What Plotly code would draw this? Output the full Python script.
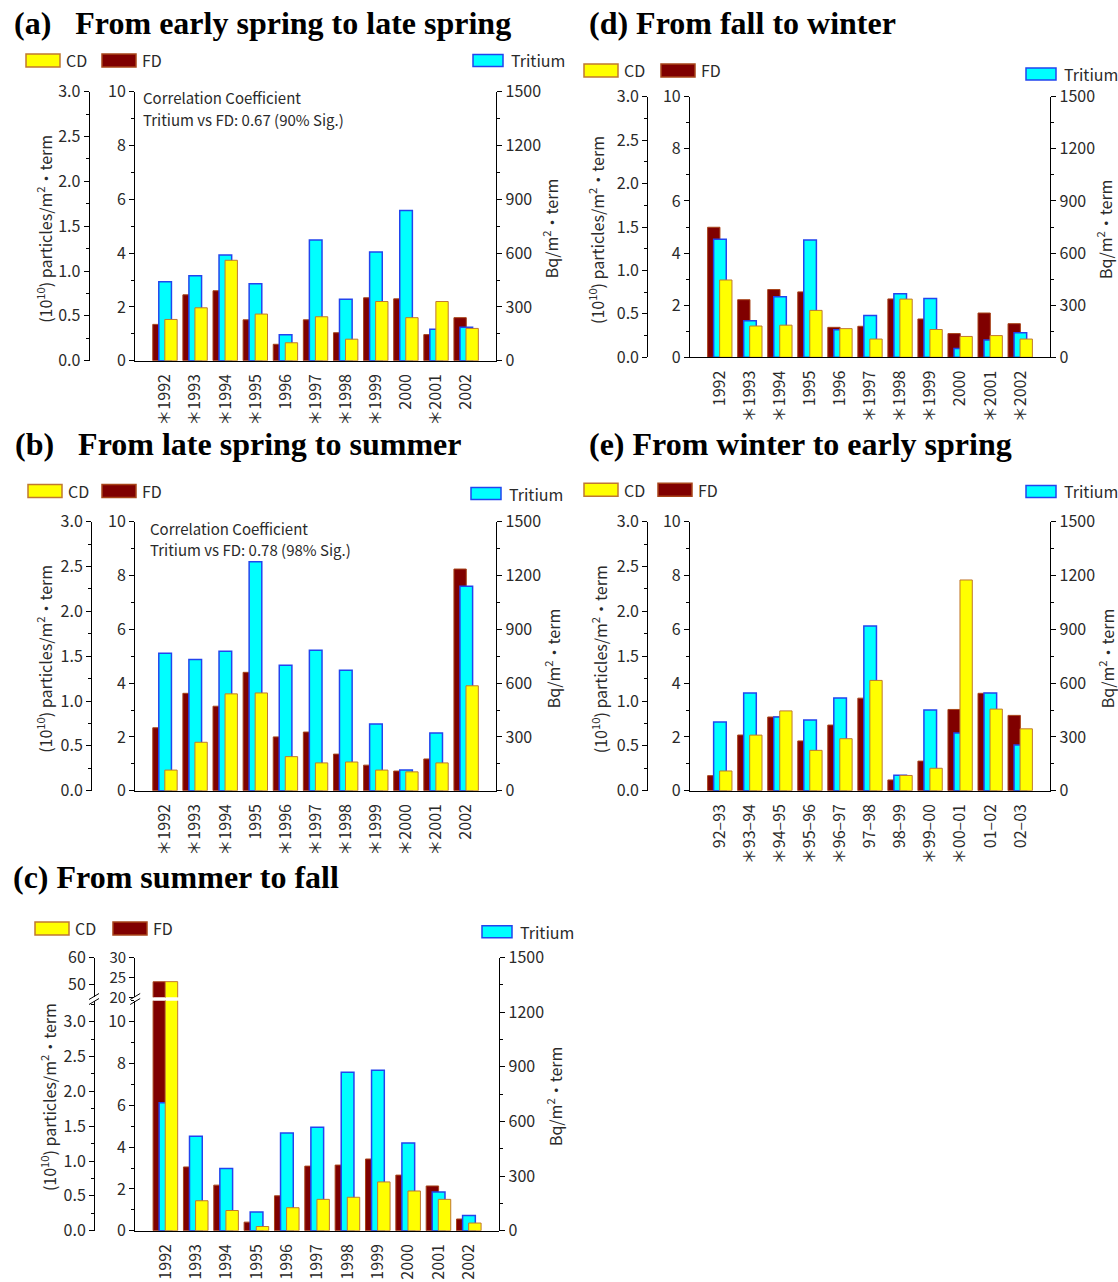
import plotly.graph_objects as go

W, H = 1118, 1282

# ---------------- data ----------------
# CD: 10^10 particles/m2 per term (outer left scale), FD: inner left scale, Tritium: Bq/m2 per term
a_years = ["＊1992", "＊1993", "＊1994", "＊1995", "1996", "＊1997", "＊1998", "＊1999", "2000", "＊2001", "2002"]
a_cd = [0.46, 0.59, 1.12, 0.52, 0.20, 0.49, 0.24, 0.66, 0.48, 0.66, 0.36]
a_fd = [1.35, 2.45, 2.60, 1.52, 0.61, 1.52, 1.04, 2.34, 2.30, 0.97, 1.60]
a_tritium = [440, 474, 589, 429, 145, 673, 342, 606, 838, 175, 186]

d_years = ["1992", "＊1993", "＊1994", "1995", "1996", "＊1997", "＊1998", "＊1999", "2000", "＊2001", "＊2002"]
d_cd = [0.89, 0.36, 0.37, 0.54, 0.33, 0.21, 0.67, 0.32, 0.24, 0.25, 0.21]
d_fd = [4.99, 2.21, 2.60, 2.51, 1.15, 1.19, 2.24, 1.47, 0.91, 1.70, 1.29]
d_tritium = [679, 211, 349, 675, 159, 240, 366, 338, 50, 100, 142]

b_years = ["＊1992", "＊1993", "＊1994", "1995", "＊1996", "＊1997", "＊1998", "＊1999", "＊2000", "＊2001", "2002"]
b_cd = [0.23, 0.54, 1.08, 1.09, 0.38, 0.31, 0.32, 0.23, 0.21, 0.31, 1.17]
b_fd = [2.34, 3.62, 3.14, 4.40, 2.00, 2.18, 1.36, 0.95, 0.73, 1.18, 8.24]
b_tritium = [766, 732, 777, 1277, 699, 783, 671, 372, 115, 322, 1140]

e_years = ["92–93", "＊93–94", "＊94–95", "＊95–96", "＊96–97", "97–98", "98–99", "＊99–00", "＊00–01", "01–02", "02–03"]
e_cd = [0.22, 0.62, 0.89, 0.45, 0.58, 1.23, 0.17, 0.25, 2.35, 0.91, 0.69]
e_fd = [0.56, 2.07, 2.74, 1.85, 2.44, 3.44, 0.40, 1.10, 3.02, 3.62, 2.80]
e_tritium = [383, 545, 411, 394, 517, 918, 86, 450, 322, 545, 255]

c_years = ["1992", "＊1993", "＊1994", "1995", "＊1996", "＊1997", "1998", "1999", "＊2000", "＊2001", "2002"]
c_cd = [50.9, 0.43, 0.29, 0.06, 0.33, 0.45, 0.48, 0.70, 0.57, 0.45, 0.11]
c_fd = [23.9, 3.05, 2.18, 0.41, 1.67, 3.09, 3.14, 3.43, 2.66, 2.14, 0.56]
c_tritium = [703, 518, 341, 103, 537, 568, 870, 881, 482, 212, 84]

titles = {
    "a": "(a)\u00a0\u00a0\u00a0From early spring to late spring",
    "d": "(d) From fall to winter",
    "b": "(b)\u00a0\u00a0\u00a0From late spring to summer",
    "e": "(e) From winter to early spring",
    "c": "(c) From summer to fall",
}
corr_head = "Correlation Coefficient"
corr_a = "Tritium vs FD: 0.67 (90% Sig.)"
corr_b = "Tritium vs FD: 0.78 (98% Sig.)"

# ---------------- styling ----------------
SANS = "Noto Sans CJK JP"
TXT = "#2a2a2a"
TICK_FONT = dict(family=SANS, size=16, color=TXT)
CD_FILL, CD_LINE = "#FFFF00", "#C07830"
FD_FILL, FD_LINE = "#800000", "#A8441A"
T_FILL, T_LINE = "#00FFFF", "#2244EE"

# bar placement inside each category slot
FD_OFF, FD_W = -0.41, 0.41
T_OFF, T_W = -0.21, 0.42
CD_OFF, CD_W = -0.01, 0.41


def fx(px):
    return px / W


def fy(py):
    return 1 - py / H


def xref(n):
    return "x" if n == 1 else f"x{n}"


def yref(n):
    return "y" if n == 1 else f"y{n}"


def xkey(n):
    return "xaxis" if n == 1 else f"xaxis{n}"


def ykey(n):
    return "yaxis" if n == 1 else f"yaxis{n}"


def yax(**kw):
    d = dict(showline=True, linecolor="black", linewidth=1, ticks="outside",
             ticklen=5, tickwidth=1, tickcolor="black", showgrid=False,
             zeroline=False, tickfont=TICK_FONT, fixedrange=True, automargin=False)
    d.update(kw)
    return d


def minor(step):
    return dict(dtick=step, ticks="outside", ticklen=3, tickcolor="black", showgrid=False)


def xax(geo, anchor):
    return dict(type="category", range=[-1, 11],
                domain=[fx(geo["inner"]), fx(geo["right"])], anchor=anchor,
                showline=True, linecolor="black", linewidth=1, ticks="",
                tickangle=-90, tickfont=TICK_FONT, showgrid=False, zeroline=False,
                ticklabelstandoff=6, fixedrange=True, automargin=False)


def bar(x, y, xa, ya, fill, line, off, wd, lw=1):
    return go.Bar(x=x, y=y, xaxis=xa, yaxis=ya, offset=off, width=wd,
                  marker=dict(color=fill, line=dict(color=line, width=lw)),
                  showlegend=False, hoverinfo="skip")


fig = go.Figure()
layout = {}
shapes = []
annotations = []


def text(x, y, s, size=16, anchor="left", family=SANS, color=TXT, angle=0, yanchor="middle"):
    annotations.append(dict(x=fx(x), y=fy(y), xref="paper", yref="paper", text=s,
                            showarrow=False, xanchor=anchor, yanchor=yanchor,
                            textangle=angle, align="left",
                            font=dict(family=family, size=size, color=color)))


def legend(lg):
    ycf, yt = lg["y"], lg["yt"]
    for x0, fill, line, name in ((lg["cd"], CD_FILL, CD_LINE, "CD"),
                                 (lg["fd"], FD_FILL, FD_LINE, "FD")):
        shapes.append(dict(type="rect", xref="paper", yref="paper",
                           x0=fx(x0), x1=fx(x0 + 34), y0=fy(ycf + 6.5), y1=fy(ycf - 6.5),
                           fillcolor=fill, line=dict(color=line, width=1.5)))
        text(x0 + 38, ycf, name)
    tx = lg["t"]
    shapes.append(dict(type="rect", xref="paper", yref="paper",
                       x0=fx(tx - 36), x1=fx(tx - 6), y0=fy(yt + 6), y1=fy(yt - 6),
                       fillcolor=T_FILL, line=dict(color=T_LINE, width=1.5)))
    text(tx, yt, "Tritium")


def axis_titles(geo, lx, rx, dy=3):
    mid = (geo["top"] + geo["bottom"]) / 2 + dy
    text(lx, mid, "(10<sup>10</sup>) particles/m<sup>2</sup>・term", anchor="center", angle=-90)
    text(rx, mid, "Bq/m<sup>2</sup>・term", anchor="center", angle=-90)


def standard_panel(nx, yb, cats, fd, cd, tri, geo):
    yt, yc = yb + 1, yb + 2
    xa = xref(nx)
    layout[xkey(nx)] = xax(geo, yref(yb))
    layout[ykey(yb)] = yax(domain=[fy(geo["bottom"]), fy(geo["top"])], range=[0, 10],
                           tick0=0, dtick=2, minor=minor(1), anchor=xa, side="left")
    layout[ykey(yt)] = yax(overlaying=yref(yb), anchor=xa, side="right", range=[0, 1500],
                           tick0=0, dtick=300, minor=minor(150))
    layout[ykey(yc)] = yax(overlaying=yref(yb), anchor="free", position=fx(geo["outer"]),
                           side="left", range=[0, 3], tick0=0, dtick=0.5,
                           tickformat=".1f", minor=minor(0.25))
    fig.add_trace(bar(cats, fd, xa, yref(yb), FD_FILL, FD_LINE, FD_OFF, FD_W))
    fig.add_trace(bar(cats, tri, xa, yref(yt), T_FILL, T_LINE, T_OFF, T_W, 1.5))
    fig.add_trace(bar(cats, cd, xa, yref(yc), CD_FILL, CD_LINE, CD_OFF, CD_W))


# ---------------- panels a, d, b, e ----------------
geo_a = dict(outer=88.6, inner=135.0, right=496.4, top=91.7, bottom=360.7)
geo_d = dict(outer=647.2, inner=689.9, right=1050.4, top=96.7, bottom=357.3)
geo_b = dict(outer=91.0, inner=135.0, right=496.4, top=521.7, bottom=790.7)
geo_e = dict(outer=647.2, inner=689.9, right=1050.4, top=521.7, bottom=790.7)

standard_panel(1, 1, a_years, a_fd, a_cd, a_tritium, geo_a)
standard_panel(2, 4, d_years, d_fd, d_cd, d_tritium, geo_d)
standard_panel(3, 7, b_years, b_fd, b_cd, b_tritium, geo_b)
standard_panel(4, 10, e_years, e_fd, e_cd, e_tritium, geo_e)

# ---------------- panel c (broken left scales) ----------------
geo_c = dict(outer=94.0, inner=135.2, right=499.3, top=957.5, bottom=1230.7,
             lo_top=1000.7, hi_bot=997.3, ten=1021.7)
lo_frac = (geo_c["bottom"] - geo_c["lo_top"]) / (geo_c["bottom"] - geo_c["ten"])
t_frac = (geo_c["bottom"] - geo_c["lo_top"]) / (geo_c["bottom"] - geo_c["top"])
xc = xref(5)
layout[xkey(5)] = xax(geo_c, yref(13))
# lower segment: FD base, tritium (same scale as the continuous right axis), CD outer scale
layout[ykey(13)] = yax(domain=[fy(geo_c["bottom"]), fy(geo_c["lo_top"])], range=[0, 10 * lo_frac],
                       tick0=0, dtick=2, minor=minor(1), anchor=xc, side="left")
layout[ykey(14)] = dict(overlaying=yref(13), anchor=xc, side="right", visible=False,
                        range=[0, 1500 * t_frac], fixedrange=True, automargin=False)
layout[ykey(15)] = yax(overlaying=yref(13), anchor="free", position=fx(geo_c["outer"]),
                       side="left", range=[0, 3 * lo_frac], tick0=0, dtick=0.5,
                       tickformat=".1f", minor=minor(0.25))
# upper segment
layout[ykey(16)] = yax(domain=[fy(geo_c["hi_bot"]), fy(geo_c["top"])], range=[20, 30],
                       tick0=20, dtick=5, anchor=xc, side="left",
                       tickfont=dict(family=SANS, size=15, color=TXT))
layout[ykey(17)] = yax(overlaying=yref(16), anchor="free", position=fx(geo_c["outer"]),
                       side="left", range=[45, 60], tick0=50, dtick=10)
# continuous tritium scale drawn on the right
layout[ykey(18)] = yax(domain=[fy(geo_c["bottom"]), fy(geo_c["top"])], range=[0, 1500],
                       anchor=xc, side="right", tick0=0, dtick=300, minor=minor(150))

fig.add_trace(bar(c_years, c_fd, xc, yref(13), FD_FILL, FD_LINE, FD_OFF, FD_W))
fig.add_trace(bar(c_years, c_tritium, xc, yref(14), T_FILL, T_LINE, T_OFF, T_W, 1.5))
fig.add_trace(bar(c_years, c_cd, xc, yref(15), CD_FILL, CD_LINE, CD_OFF, CD_W))
fig.add_trace(bar(c_years, c_fd, xc, yref(16), FD_FILL, FD_LINE, FD_OFF, FD_W))
fig.add_trace(bar(c_years, c_cd, xc, yref(17), CD_FILL, CD_LINE, CD_OFF, CD_W))
# tritium values bound to the visible right scale (no marks drawn)
fig.add_trace(go.Scatter(x=c_years, y=c_tritium, xaxis=xc, yaxis=yref(18), mode="none",
                         showlegend=False, hoverinfo="skip"))

# break marks on the two left scales
ymid = (geo_c["lo_top"] + geo_c["hi_bot"]) / 2
for xa_px in (geo_c["outer"], geo_c["inner"]):
    for dy in (-2.5, 2.5):
        shapes.append(dict(type="line", xref="paper", yref="paper",
                           x0=fx(xa_px - 5), y0=fy(ymid + dy + 3),
                           x1=fx(xa_px + 5), y1=fy(ymid + dy - 3),
                           line=dict(color="black", width=1)))

# ---------------- titles, legends, labels ----------------
TITLE_FONT = "Liberation Serif"
text(12, 23, "<b>" + titles["a"] + "</b>", size=32, family=TITLE_FONT, color="black")
text(587, 23, "<b>" + titles["d"] + "</b>", size=32, family=TITLE_FONT, color="black")
text(13, 444, "<b>" + titles["b"] + "</b>", size=32, family=TITLE_FONT, color="black")
text(587, 444, "<b>" + titles["e"] + "</b>", size=32, family=TITLE_FONT, color="black")
text(11, 877, "<b>" + titles["c"] + "</b>", size=32, family=TITLE_FONT, color="black")

legend(dict(cd=26, fd=102, t=509, y=60.5, yt=60.5))
legend(dict(cd=584, fd=661, t=1062, y=70.4, yt=74))
legend(dict(cd=28, fd=102, t=507, y=491, yt=493.5))
legend(dict(cd=584, fd=658, t=1062, y=489.7, yt=491.5))
legend(dict(cd=35, fd=113, t=518, y=928.4, yt=931.7))

text(141, 98, corr_head, size=15)
text(141, 119.5, corr_a, size=15)
text(147.5, 528, corr_head, size=15)
text(147.5, 549.5, corr_b, size=15)

axis_titles(geo_a, 44.6, 550)
axis_titles(geo_d, 596, 1104)
axis_titles(geo_b, 44.6, 552)
axis_titles(geo_e, 599, 1106)
axis_titles(geo_c, 48, 554)

fig.update_layout(
    template="none",
    width=W, height=H, autosize=False,
    margin=dict(l=0, r=0, t=0, b=0, pad=0),
    # transparent plot areas so the stacked panel-(c) subplots do not hide each other
    paper_bgcolor="white", plot_bgcolor="rgba(0,0,0,0)",
    barmode="overlay", showlegend=False,
    shapes=shapes, annotations=annotations,
    **layout,
)

fig.write_html("out.html")
